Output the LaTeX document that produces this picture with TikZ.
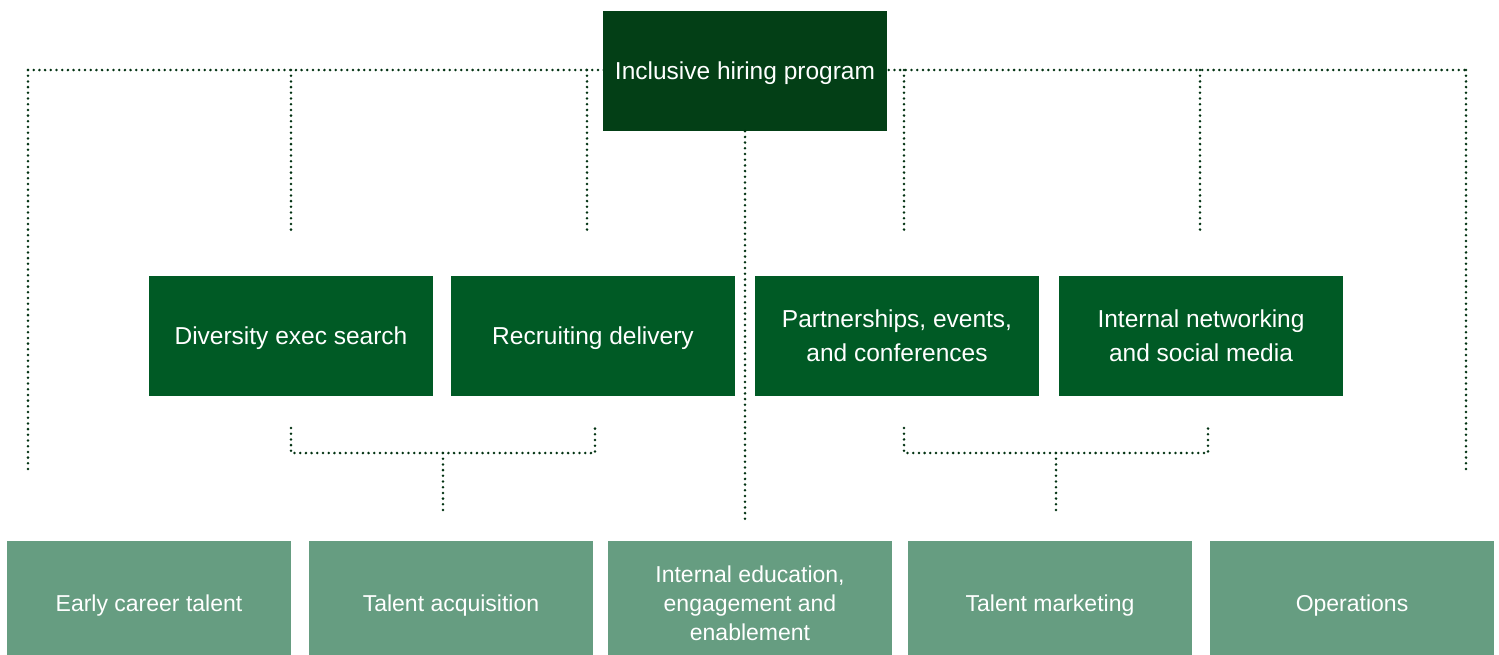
\documentclass[tikz,border=0pt]{standalone}
\usepackage{fontspec}
\setmainfont{Liberation Sans}
\usetikzlibrary{positioning,calc}

\definecolor{darkgreen}{HTML}{033F16}
\definecolor{midgreen}{HTML}{005A25}
\definecolor{palegreen}{HTML}{669D81}

\begin{document}
\begin{tikzpicture}[
    x=1pt, y=-1pt,
    box/.style={draw=none, minimum width=284pt, inner sep=0pt, text=white, align=center, text depth=0pt},
    topbox/.style={box, fill=darkgreen, minimum height=120pt, font=\fontsize{24.5}{34}\selectfont},
    midbox/.style={box, fill=midgreen, minimum height=120pt, font=\fontsize{24.5}{34}\selectfont},
    lowbox/.style={box, fill=palegreen, minimum height=124pt, font=\fontsize{23}{29}\selectfont},
    link/.style={draw=darkgreen!80!black, line width=2.8pt, line cap=round, dash pattern=on 0pt off 5.7pt}
]
\useasboundingbox (0,0) rectangle (1499,654);

% Dotted connectors (drawn first, boxes cover them)
\coordinate (busL) at (28,70);
\coordinate (busR) at (1466,70);
\coordinate (endL) at (28,472);
\coordinate (endR) at (1466,472);
\coordinate (hubC) at (745,520);

\draw[link] (busL) -- (busR);
\draw[link] (busL) -- (endL);
\draw[link] (busR) -- (endR);
\foreach \x in {291,587,904,1200}
    \draw[link] (\x,70) -- (\x,231);

% Lower brackets
\coordinate (brLa) at (291,428);
\coordinate (brLb) at (595,428);
\coordinate (brLc) at (443,453);
\coordinate (brLd) at (443,511);
\coordinate (brRa) at (904,428);
\coordinate (brRb) at (1208,428);
\coordinate (brRc) at (1056,453);
\coordinate (brRd) at (1056,511);

\draw[link] (brLa) |- (brLc) -| (brLb);
\draw[link] (brLc) -- (brLd);
\draw[link] (brRa) |- (brRc) -| (brRb);
\draw[link] (brRc) -- (brRd);

% Top box
\node[topbox] (prog) at (745,71) {Inclusive hiring program};
\draw[link] (prog.south) -- (hubC);

% Middle row
\node[midbox] (dive) at (291,336) {Diversity exec search};
\node[midbox] (recr) at (593,336) {Recruiting delivery};
\node[midbox] (part) at (897,336) {Partnerships, events,\\and conferences};
\node[midbox] (intn) at (1201,336) {Internal networking\\and social media};

% Bottom row
\node[lowbox] (early) at (149,603) {Early career talent};
\node[lowbox] (acq)   at (451,603) {Talent acquisition};
\node[lowbox] (edu)   at (750,603) {Internal education,\\engagement and\\enablement};
\node[lowbox] (mkt)   at (1050,603) {Talent marketing};
\node[lowbox] (ops)   at (1352,603) {Operations};

\end{tikzpicture}
\end{document}
